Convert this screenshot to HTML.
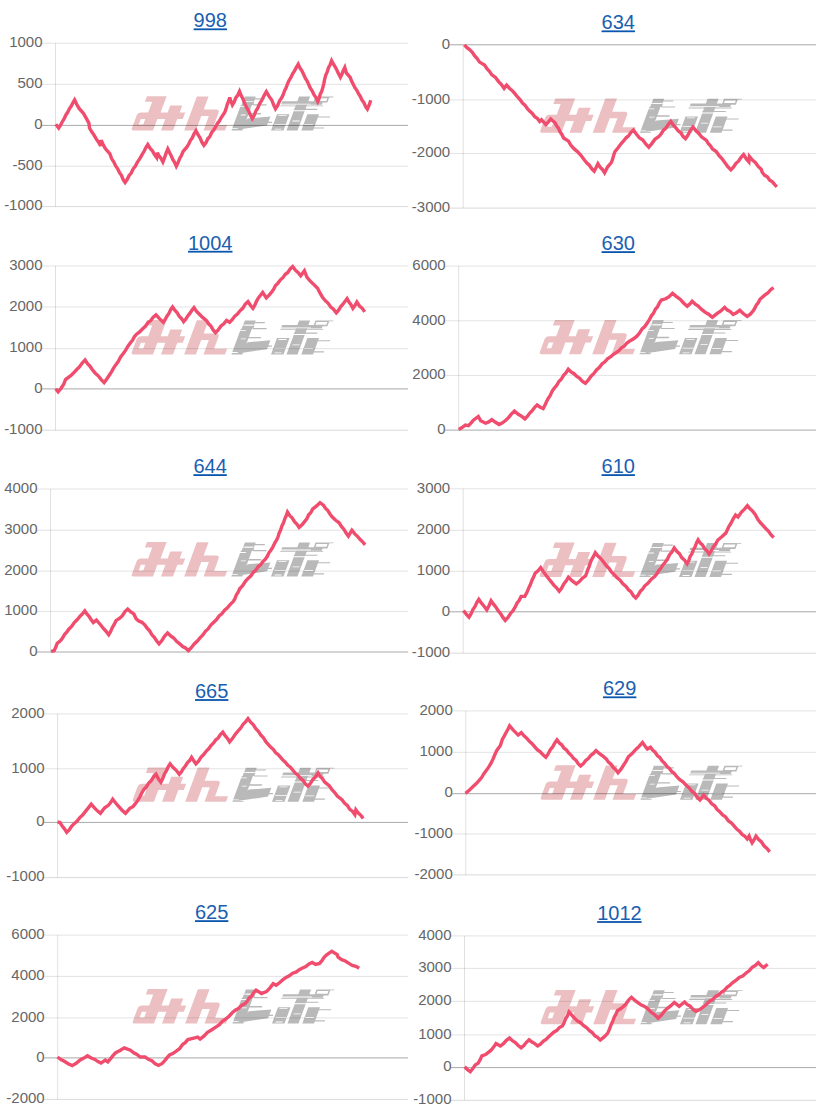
<!DOCTYPE html>
<html><head><meta charset="utf-8">
<style>
html,body{margin:0;padding:0;background:#fff;}
body{width:816px;height:1115px;overflow:hidden;position:relative;font-family:"Liberation Sans",sans-serif;}
svg{position:absolute;left:0;top:0;}
.lbl{font-size:15px;fill:#666;text-anchor:end;}
.ttl{font-size:20px;fill:#1a60b0;text-anchor:middle;}
</style></head><body>
<svg width="816" height="1115" viewBox="0 0 816 1115">

<defs><symbol id="wm" overflow="visible"><g transform="skewX(-20.3)"><path d="M3.2,-34.4H22.9V-28.9H3.2ZM10.5,-28.9H22.9V-18H10.5ZM0,-11.7V-15.1Q0,-18.1 3.5,-18.1H47.5V-11.7ZM0,-11.7H22V0H2.5Q0,0 0,-2.5ZM30,-25H42V0H30ZM53.2,-34.2H64.9V0H53.2ZM64.9,-21H77.5Q81,-21 81,-17.5V-14.5H64.9ZM72.5,-14.5H81V-5.6H72.5ZM72.5,-5.6H94V0H72.5ZM5.5,-11.7V-6H10V-11.7Z" fill="#ecc0c2" fill-rule="nonzero"/><path d="M101.3,-34H112.2V-29.7H101.3ZM112.2,-32.4H122V-31.2H112.2ZM101.1,-29.0H112.7V-25.7H101.1ZM112.7,-26.4H126V-25.2H112.7ZM100.4,-25.7H111.4V0H100.4ZM105.9,-17.5H123.8V-16.1H105.9ZM100.4,0L112.4,-12.2L134.2,-14.1L134.1,-5.2ZM134,-8.8H138V-7.6H134ZM140.4,-29.3H181.2V-25.8H140.4ZM140,-25.2H183V-24.4H140ZM155.5,-34H166.5V0H155.5ZM155,-21.8H178.5V-20.7H155ZM171.9,-34H186V-32.4H171.9ZM171.9,-34H173.5V-28.1H171.9ZM184.4,-34H186V-28.1H184.4ZM171.9,-29.7H186V-28.1H171.9ZM186,-34H190V-33.2H186ZM140,-16.3H152.5V0H140ZM170.3,-16.3H182V0H170.3ZM182,-14.2H194V-13.2H182ZM181,-3.2H192V-2.0H181Z" fill="#b9b9b9"/><path d="M100,-24.4H106V-23.6H100ZM104,-16H109V-15.2H104ZM100,-2.3H106V-1.5H100ZM118,-2.0H134V-1.2H118ZM103,-29.7H111V-29.0H103ZM140,-26.9H170V-26.1H140ZM155,-20.3H168V-19.3H155ZM142,-15.3H150V-14.5H142ZM158,-10.0H165V-9.2H158ZM171,-6.4H180V-5.6H171ZM143,-1.9H150V-1.1H143ZM141,-6.5H153V-5.8H141Z" fill="#fff"/></g></symbol></defs>
<use href="#wm" x="131" y="130.6"/>
<line x1="55.5" y1="43.2" x2="55.5" y2="206.6" stroke="rgba(0,0,0,0.12)" stroke-width="1"/>
<line x1="42.0" y1="43.2" x2="408" y2="43.2" stroke="rgba(0,0,0,0.115)" stroke-width="1"/>
<text class="lbl" x="42.5" y="46.900000000000006">1000</text>
<line x1="42.0" y1="84.3" x2="408" y2="84.3" stroke="rgba(0,0,0,0.115)" stroke-width="1"/>
<text class="lbl" x="42.5" y="88.0">500</text>
<line x1="42.0" y1="125.4" x2="408" y2="125.4" stroke="rgba(0,0,0,0.34)" stroke-width="1"/>
<text class="lbl" x="42.5" y="129.1">0</text>
<line x1="42.0" y1="166.2" x2="408" y2="166.2" stroke="rgba(0,0,0,0.115)" stroke-width="1"/>
<text class="lbl" x="42.5" y="169.89999999999998">-500</text>
<line x1="42.0" y1="206.6" x2="408" y2="206.6" stroke="rgba(0,0,0,0.15)" stroke-width="1"/>
<text class="lbl" x="42.5" y="210.29999999999998">-1000</text>
<text class="ttl" x="210.3" y="27.099999999999998">998</text>
<rect x="193.62" y="28.40" width="33.36" height="1.8" fill="#0a55ad"/>
<polyline points="55.8,124.3 58.7,128.0 60.7,125.0 62.6,121.3 64.3,118.5 66.0,114.7 67.7,112.3 69.5,108.6 71.2,106.3 72.9,102.7 74.6,99.8 76.8,104.5 79.1,108.4 83.4,113.3 85.9,117.6 88.9,123.1 89.5,128.0 91.7,131.8 93.9,134.8 96.2,138.9 98.4,142.0 100.6,145.8 101.2,140.2 103.3,144.9 105.5,148.8 109.8,153.7 111.6,158.6 114.0,162.3 115.8,166.2 117.7,168.8 119.5,172.7 121.4,175.3 123.2,179.7 125.1,182.5 127.1,179.6 129.2,175.4 131.2,173.0 133.2,168.8 135.3,166.2 137.3,162.3 139.8,158.6 142.2,154.3 144.1,151.3 145.9,147.5 147.8,144.5 150.0,148.1 152.2,150.5 154.5,154.6 156.7,157.6 157.4,152.7 159.2,156.2 161.1,158.4 162.9,161.9 164.5,157.9 166.2,152.9 167.8,149.0 169.5,152.6 171.2,155.7 172.9,159.6 174.6,162.3 176.3,166.2 178.0,162.9 179.7,158.5 181.4,155.6 183.1,151.5 186.8,147.2 188.6,144.3 190.5,140.3 192.3,137.8 194.2,133.5 196.0,130.7 198.0,134.7 199.9,137.6 201.9,142.1 203.9,145.4 205.9,142.9 207.8,138.8 209.8,136.5 211.7,132.5 213.7,130.0 215.5,127.2 217.4,123.5 219.2,121.3 221.1,117.8 224.8,112.3 226.0,108.9 227.2,104.6 228.5,101.5 229.7,97.6 231.1,101.7 232.4,104.9 234.2,102.0 235.9,97.7 237.7,95.3 239.5,91.4 241.3,95.9 243.1,99.3 244.9,103.9 246.8,108.0 248.6,110.8 250.5,115.3 252.3,118.6 254.1,115.5 256.0,110.7 257.8,108.0 259.6,103.9 261.8,100.3 264.1,95.6 266.3,91.7 269.1,96.4 271.9,100.2 273.7,105.0 275.5,108.8 277.6,105.7 279.6,100.9 281.7,97.8 283.2,94.7 284.6,90.6 286.1,87.9 287.5,83.9 289.0,80.6 290.8,77.7 292.7,73.7 294.5,70.9 296.4,67.2 298.2,64.1 300.0,68.1 301.9,70.8 303.7,74.5 305.3,78.1 307.0,80.7 308.6,84.3 310.4,88.3 312.3,91.0 314.1,95.0 316.0,97.6 317.8,101.5 319.0,98.7 320.2,94.2 321.5,91.9 322.7,88.0 323.7,84.1 324.7,79.2 325.7,75.3 327.2,72.0 328.6,67.4 330.1,64.9 331.6,60.6 333.8,64.7 336.0,68.4 338.2,73.1 340.4,77.3 341.9,74.3 343.3,70.5 344.8,67.5 346.3,72.8 350.2,77.3 351.6,81.1 353.1,84.1 354.9,87.7 356.7,90.1 358.5,93.7 360.2,96.2 362.0,100.1 363.8,102.4 365.6,106.6 367.4,109.1 369.1,105.2 370.8,100.3" fill="none" stroke="#f04d6e" stroke-width="3.4" stroke-linejoin="miter" stroke-miterlimit="3" stroke-linecap="butt"/>
<use href="#wm" x="539.5" y="132.8"/>
<line x1="463.2" y1="44.8" x2="463.2" y2="208.1" stroke="rgba(0,0,0,0.12)" stroke-width="1"/>
<line x1="449.7" y1="44.8" x2="816" y2="44.8" stroke="rgba(0,0,0,0.34)" stroke-width="1"/>
<text class="lbl" x="450.2" y="48.5">0</text>
<line x1="449.7" y1="99.9" x2="816" y2="99.9" stroke="rgba(0,0,0,0.115)" stroke-width="1"/>
<text class="lbl" x="450.2" y="103.60000000000001">-1000</text>
<line x1="449.7" y1="153.6" x2="816" y2="153.6" stroke="rgba(0,0,0,0.115)" stroke-width="1"/>
<text class="lbl" x="450.2" y="157.29999999999998">-2000</text>
<line x1="449.7" y1="208.1" x2="816" y2="208.1" stroke="rgba(0,0,0,0.15)" stroke-width="1"/>
<text class="lbl" x="450.2" y="211.79999999999998">-3000</text>
<text class="ttl" x="618.25" y="29.099999999999998">634</text>
<rect x="601.57" y="30.40" width="33.36" height="1.8" fill="#0a55ad"/>
<polyline points="464.3,44.9 467.0,47.7 469.6,49.6 472.3,52.3 474.7,56.0 477.2,58.6 479.6,62.1 484.5,65.1 487.0,68.8 489.4,71.3 491.9,74.9 495.5,77.4 498.4,81.3 501.2,84.3 504.1,88.4 506.6,85.1 509.4,88.2 512.3,90.6 515.1,93.9 517.6,97.0 520.0,99.6 522.5,103.1 524.9,105.1 527.4,108.6 529.9,111.4 532.3,113.5 534.8,116.8 537.2,118.3 539.7,121.5 541.5,119.7 545.8,124.6 548.2,122.2 550.7,119.0 555.0,122.7 556.7,126.1 558.4,128.2 560.2,132.1 561.9,134.4 563.6,138.0 568.5,141.1 570.9,145.3 574.2,148.9 577.4,151.6 580.7,155.1 584.4,160.0 586.9,163.0 589.3,165.2 591.8,168.8 594.2,171.1 596.0,167.7 597.9,163.7 600.1,167.2 602.4,169.4 604.6,172.9 607.7,166.8 611.4,162.5 612.6,159.2 613.8,154.8 615.0,151.5 618.1,147.7 621.2,143.5 623.6,141.0 626.1,137.8 628.5,135.9 631.0,132.3 633.4,130.0 636.5,134.3 639.6,138.0 642.6,139.8 645.7,143.9 648.8,147.2 651.8,143.6 654.9,139.2 658.6,136.8 661.0,134.0 663.5,130.1 665.9,128.0 668.4,124.2 670.8,121.4 673.2,124.9 675.7,127.6 678.2,130.8 680.6,132.6 683.0,136.3 685.5,138.6 688.0,135.0 690.4,130.3 692.9,127.0 695.8,130.5 698.6,133.2 701.5,136.8 706.4,140.4 708.4,143.8 710.5,145.9 712.5,149.0 716.2,151.5 719.1,155.6 721.9,158.6 724.8,162.5 727.8,166.7 730.9,169.9 733.4,167.3 736.0,163.3 738.5,161.2 741.1,157.3 743.6,154.5 746.2,158.7 748.9,161.9 749.4,156.5 752.4,160.1 755.3,162.4 758.2,166.4 761.2,169.2 762.2,172.2 764.7,175.3 767.3,176.7 769.8,180.2 772.4,181.9 774.9,184.9 776.9,186.9" fill="none" stroke="#f04d6e" stroke-width="3.4" stroke-linejoin="miter" stroke-miterlimit="3" stroke-linecap="butt"/>
<use href="#wm" x="131" y="354.4"/>
<line x1="55.5" y1="266.0" x2="55.5" y2="430.2" stroke="rgba(0,0,0,0.12)" stroke-width="1"/>
<line x1="42.0" y1="266.0" x2="408" y2="266.0" stroke="rgba(0,0,0,0.115)" stroke-width="1"/>
<text class="lbl" x="42.5" y="269.7">3000</text>
<line x1="42.0" y1="307.0" x2="408" y2="307.0" stroke="rgba(0,0,0,0.115)" stroke-width="1"/>
<text class="lbl" x="42.5" y="310.7">2000</text>
<line x1="42.0" y1="348.7" x2="408" y2="348.7" stroke="rgba(0,0,0,0.115)" stroke-width="1"/>
<text class="lbl" x="42.5" y="352.4">1000</text>
<line x1="42.0" y1="388.9" x2="408" y2="388.9" stroke="rgba(0,0,0,0.34)" stroke-width="1"/>
<text class="lbl" x="42.5" y="392.59999999999997">0</text>
<line x1="42.0" y1="430.2" x2="408" y2="430.2" stroke="rgba(0,0,0,0.15)" stroke-width="1"/>
<text class="lbl" x="42.5" y="433.9">-1000</text>
<text class="ttl" x="210.25" y="249.5">1004</text>
<rect x="188.01" y="250.80" width="44.48" height="1.8" fill="#0a55ad"/>
<polyline points="55.7,388.8 58.1,391.8 60.9,388.5 63.6,384.5 65.5,379.6 70.4,375.9 73.5,373.1 76.5,369.8 79.4,367.0 82.2,363.1 85.1,360.0 87.5,363.7 90.0,366.2 92.4,369.8 95.3,373.2 98.2,375.8 101.2,379.6 104.1,382.6 106.8,379.0 109.6,374.7 111.6,371.6 113.7,367.9 115.7,364.9 118.2,361.6 120.6,357.0 123.1,353.8 125.5,350.4 128.0,346.2 130.4,342.8 132.5,340.4 134.5,336.5 136.6,334.2 139.6,331.9 142.7,328.7 145.4,326.3 148.0,322.6 150.7,320.6 153.3,317.1 156.0,314.9 159.7,318.9 163.4,322.3 165.2,319.5 167.1,316.0 168.9,313.4 170.8,309.5 172.6,307.0 174.8,310.2 177.0,312.5 179.2,316.3 181.4,318.4 183.6,321.7 185.7,319.3 187.8,315.9 189.8,313.4 191.9,310.2 194.0,307.6 196.4,311.1 198.9,313.7 202.6,317.4 206.3,320.4 208.6,323.8 210.9,326.1 213.2,330.0 215.5,332.7 218.2,329.9 221.0,326.0 223.8,323.9 226.5,320.4 229.6,322.3 232.2,319.7 234.8,316.1 237.4,314.1 240.0,310.8 242.7,308.3 245.3,304.2 248.0,301.6 250.4,305.3 252.9,308.3 254.7,305.4 256.6,301.1 258.4,297.9 262.7,292.4 266.3,297.9 269.1,295.2 271.9,291.8 273.7,289.2 275.5,285.6 278.0,283.1 280.4,279.8 282.9,277.7 285.3,274.3 287.8,272.5 290.2,268.9 292.7,266.6 295.4,270.2 298.0,272.4 300.7,275.8 304.4,270.7 306.9,277.1 309.8,280.7 312.7,283.4 317.6,288.3 320.1,293.2 322.5,297.2 325.3,300.7 328.0,303.1 330.8,307.1 333.5,309.1 336.3,312.8 338.6,310.2 340.8,306.5 343.1,304.0 347.1,298.6 349.0,302.1 351.0,304.7 352.9,308.4 354.9,305.7 356.9,302.1 359.5,306.0 362.1,308.1 364.7,311.9" fill="none" stroke="#f04d6e" stroke-width="3.4" stroke-linejoin="miter" stroke-miterlimit="3" stroke-linecap="butt"/>
<use href="#wm" x="539" y="354.3"/>
<line x1="458.7" y1="266.1" x2="458.7" y2="430.1" stroke="rgba(0,0,0,0.12)" stroke-width="1"/>
<line x1="445.2" y1="266.1" x2="816" y2="266.1" stroke="rgba(0,0,0,0.115)" stroke-width="1"/>
<text class="lbl" x="445.7" y="269.8">6000</text>
<line x1="445.2" y1="320.8" x2="816" y2="320.8" stroke="rgba(0,0,0,0.115)" stroke-width="1"/>
<text class="lbl" x="445.7" y="324.5">4000</text>
<line x1="445.2" y1="375.4" x2="816" y2="375.4" stroke="rgba(0,0,0,0.115)" stroke-width="1"/>
<text class="lbl" x="445.7" y="379.09999999999997">2000</text>
<line x1="445.2" y1="430.1" x2="816" y2="430.1" stroke="rgba(0,0,0,0.34)" stroke-width="1"/>
<text class="lbl" x="445.7" y="433.8">0</text>
<text class="ttl" x="618.25" y="249.89999999999998">630</text>
<rect x="601.57" y="251.20" width="33.36" height="1.8" fill="#0a55ad"/>
<polyline points="458.7,429.4 462.0,427.6 465.4,425.1 468.5,425.7 470.9,423.2 473.4,420.2 478.3,416.5 480.7,420.8 485.6,423.2 488.7,421.9 491.8,419.6 495.5,422.3 499.1,424.5 502.1,423.1 505.2,420.8 508.3,417.9 511.3,414.1 514.4,411.0 517.9,414.0 521.4,416.1 524.9,418.9 527.3,416.5 529.8,413.1 532.2,410.7 534.7,407.3 537.1,404.9 540.2,407.2 543.2,408.5 544.8,405.5 546.5,401.7 548.1,398.7 550.1,395.6 552.2,391.1 554.2,388.2 556.6,385.5 558.9,381.5 561.2,379.3 563.6,375.3 565.9,372.9 568.3,369.2 571.1,371.9 574.0,373.7 576.8,376.5 579.7,378.3 582.5,381.5 585.4,383.3 588.2,380.2 591.0,376.2 593.7,373.7 596.5,369.9 599.2,367.5 602.0,363.9 604.8,361.8 607.5,358.8 610.4,357.0 613.2,354.5 616.1,352.7 618.8,350.8 621.5,347.7 624.2,346.1 626.9,343.0 629.6,341.1 633.2,339.0 636.9,336.2 639.5,333.1 642.1,328.9 644.8,326.5 647.4,322.7 649.4,319.7 651.4,315.8 653.4,313.4 655.4,309.2 657.4,307.0 659.4,302.9 661.4,300.0 665.7,298.8 669.1,296.6 672.5,293.3 676.5,296.6 680.4,299.4 683.8,303.2 687.2,306.2 689.7,304.2 692.1,301.2 695.2,304.1 698.2,306.1 701.3,309.2 705.0,312.1 708.6,314.2 712.3,317.4 717.2,313.4 720.9,310.9 724.6,307.3 727.4,310.1 730.3,311.6 733.1,314.5 736.5,312.7 739.8,310.2 743.5,313.8 747.2,316.4 750.0,314.4 752.7,311.5 754.5,308.8 756.4,305.0 758.2,302.8 760.0,299.2 765.0,294.9 767.8,293.0 770.7,289.7 773.5,287.6" fill="none" stroke="#f04d6e" stroke-width="3.4" stroke-linejoin="miter" stroke-miterlimit="3" stroke-linecap="butt"/>
<use href="#wm" x="131" y="576.5"/>
<line x1="50.5" y1="489.0" x2="50.5" y2="652.0" stroke="rgba(0,0,0,0.12)" stroke-width="1"/>
<line x1="37.0" y1="489.0" x2="408" y2="489.0" stroke="rgba(0,0,0,0.115)" stroke-width="1"/>
<text class="lbl" x="37.5" y="492.7">4000</text>
<line x1="37.0" y1="530.2" x2="408" y2="530.2" stroke="rgba(0,0,0,0.115)" stroke-width="1"/>
<text class="lbl" x="37.5" y="533.9000000000001">3000</text>
<line x1="37.0" y1="571.1" x2="408" y2="571.1" stroke="rgba(0,0,0,0.115)" stroke-width="1"/>
<text class="lbl" x="37.5" y="574.8000000000001">2000</text>
<line x1="37.0" y1="611.4" x2="408" y2="611.4" stroke="rgba(0,0,0,0.115)" stroke-width="1"/>
<text class="lbl" x="37.5" y="615.1">1000</text>
<line x1="37.0" y1="652.0" x2="408" y2="652.0" stroke="rgba(0,0,0,0.34)" stroke-width="1"/>
<text class="lbl" x="37.5" y="655.7">0</text>
<text class="ttl" x="210.1" y="472.9">644</text>
<rect x="193.42" y="474.20" width="33.36" height="1.8" fill="#0a55ad"/>
<polyline points="51.1,651.3 54.1,650.7 55.7,647.3 57.2,643.3 60.3,640.9 62.4,638.2 64.5,634.6 66.7,632.3 68.8,629.2 71.6,626.4 74.3,622.5 77.1,619.8 79.9,616.4 82.3,614.0 84.8,610.9 86.9,614.0 89.0,616.3 91.2,619.8 93.3,622.5 96.4,620.0 100.7,625.0 103.4,628.5 106.0,631.2 108.7,634.8 110.5,631.8 112.3,627.5 114.2,624.5 116.0,620.7 119.7,618.2 122.4,615.6 125.0,611.5 127.7,609.0 130.8,611.9 133.8,613.9 136.2,618.8 139.1,621.2 142.0,622.3 144.9,625.0 147.2,628.3 149.6,630.8 151.9,634.8 154.3,637.4 156.7,641.0 159.0,643.9 161.9,640.5 164.7,636.0 167.6,632.9 170.7,635.9 173.7,638.0 176.8,641.6 179.8,643.9 182.7,646.5 185.5,648.0 188.4,650.7 191.3,647.7 194.2,644.0 197.1,641.3 200.0,637.8 202.7,635.2 205.4,631.3 208.1,628.9 210.8,625.1 213.5,622.5 216.3,619.8 219.1,616.0 221.8,613.8 224.6,610.2 227.4,607.8 230.3,604.3 233.1,601.7 234.8,598.9 236.4,594.8 238.0,592.5 239.7,588.7 242.6,585.7 245.4,581.4 248.3,578.2 250.7,576.1 253.2,572.5 255.6,570.4 258.1,566.8 260.5,564.9 263.0,561.5 265.4,559.2 267.3,556.3 269.1,552.6 271.0,550.0 272.8,547.2 274.7,543.0 276.5,540.2 277.9,537.2 279.2,532.9 280.6,530.1 282.0,525.7 283.4,523.1 284.8,518.8 286.1,516.1 287.5,512.1 289.8,515.7 292.1,517.8 294.5,521.7 296.8,524.1 299.1,527.4 302.0,524.9 304.8,521.4 306.8,518.8 308.7,514.7 310.7,512.7 312.6,509.1 316.3,506.2 320.0,502.7 323.4,505.2 325.6,508.5 327.9,510.6 330.1,514.2 332.3,517.0 335.7,520.3 339.1,522.8 341.4,526.4 343.8,529.2 346.1,533.0 348.4,536.1 351.9,530.2 354.8,533.9 357.7,536.6 360.2,539.6 362.6,541.8 365.1,544.9" fill="none" stroke="#f04d6e" stroke-width="3.4" stroke-linejoin="miter" stroke-miterlimit="3" stroke-linecap="butt"/>
<use href="#wm" x="539" y="577"/>
<line x1="463.2" y1="488.8" x2="463.2" y2="653.2" stroke="rgba(0,0,0,0.12)" stroke-width="1"/>
<line x1="449.7" y1="488.8" x2="816" y2="488.8" stroke="rgba(0,0,0,0.115)" stroke-width="1"/>
<text class="lbl" x="450.2" y="492.5">3000</text>
<line x1="449.7" y1="530.3" x2="816" y2="530.3" stroke="rgba(0,0,0,0.115)" stroke-width="1"/>
<text class="lbl" x="450.2" y="534.0">2000</text>
<line x1="449.7" y1="571.3" x2="816" y2="571.3" stroke="rgba(0,0,0,0.115)" stroke-width="1"/>
<text class="lbl" x="450.2" y="575.0">1000</text>
<line x1="449.7" y1="611.8" x2="816" y2="611.8" stroke="rgba(0,0,0,0.34)" stroke-width="1"/>
<text class="lbl" x="450.2" y="615.5">0</text>
<line x1="449.7" y1="653.2" x2="816" y2="653.2" stroke="rgba(0,0,0,0.15)" stroke-width="1"/>
<text class="lbl" x="450.2" y="656.9000000000001">-1000</text>
<text class="ttl" x="618.25" y="472.9">610</text>
<rect x="601.57" y="474.20" width="33.36" height="1.8" fill="#0a55ad"/>
<polyline points="463.5,610.5 466.2,614.2 469.0,617.2 471.0,613.9 472.9,609.6 474.9,606.7 476.8,602.6 478.8,599.4 481.5,603.2 484.1,606.2 486.8,609.9 489.0,605.7 491.1,600.7 493.5,604.2 495.8,606.9 498.1,610.7 500.5,613.5 502.9,617.4 505.2,620.3 507.8,617.6 510.5,613.5 513.1,610.5 515.1,607.2 517.1,603.0 519.1,600.5 521.1,596.4 524.8,596.4 527.0,592.2 529.1,587.2 530.6,584.0 532.2,579.6 533.7,576.8 535.2,573.1 538.0,570.9 540.7,567.6 543.5,571.9 546.2,575.5 548.7,578.8 551.1,581.7 553.8,585.1 556.5,587.8 559.2,591.3 561.5,588.3 563.8,584.0 566.1,581.1 568.4,577.2 572.3,581.0 576.3,583.9 579.4,581.6 582.4,578.2 585.5,576.0 586.7,572.9 588.0,569.2 589.2,566.3 590.5,562.3 591.7,559.4 593.5,556.4 595.3,552.7 598.2,556.3 601.0,558.8 603.9,562.5 606.4,565.8 608.8,568.0 611.2,571.7 613.7,574.1 616.8,577.6 619.9,580.0 622.9,583.7 626.0,586.4 628.5,589.7 630.9,591.7 633.3,595.6 635.8,598.0 638.0,595.3 640.3,591.3 642.5,589.1 644.8,585.8 648.1,583.1 651.3,579.2 654.6,576.6 656.7,574.0 658.8,570.6 660.8,568.3 662.9,564.9 665.0,562.5 667.3,559.3 669.6,554.7 671.9,552.0 674.2,547.8 676.8,551.3 679.4,553.7 681.9,557.8 684.5,560.1 687.1,563.7 688.7,560.7 690.2,556.3 691.8,554.0 693.4,549.7 695.0,547.1 696.5,543.0 698.1,539.8 700.3,543.1 702.5,545.0 704.7,548.9 706.9,550.6 709.1,553.9 711.3,550.7 713.5,546.6 715.7,543.9 717.9,540.0 721.8,536.7 725.8,533.1 728.7,526.8 731.0,523.2 733.3,518.7 735.6,515.0 738.0,517.0 741.5,512.1 744.5,509.1 747.4,505.7 750.0,508.8 752.6,511.1 755.2,514.5 758.1,519.9 760.5,522.8 763.0,525.3 765.7,528.6 768.4,531.1 771.1,535.0 773.8,537.5" fill="none" stroke="#f04d6e" stroke-width="3.4" stroke-linejoin="miter" stroke-miterlimit="3" stroke-linecap="butt"/>
<use href="#wm" x="132" y="801.8"/>
<line x1="57.6" y1="713.9" x2="57.6" y2="877.6" stroke="rgba(0,0,0,0.12)" stroke-width="1"/>
<line x1="44.1" y1="713.9" x2="408" y2="713.9" stroke="rgba(0,0,0,0.115)" stroke-width="1"/>
<text class="lbl" x="44.6" y="717.6">2000</text>
<line x1="44.1" y1="768.8" x2="408" y2="768.8" stroke="rgba(0,0,0,0.115)" stroke-width="1"/>
<text class="lbl" x="44.6" y="772.5">1000</text>
<line x1="44.1" y1="822.4" x2="408" y2="822.4" stroke="rgba(0,0,0,0.34)" stroke-width="1"/>
<text class="lbl" x="44.6" y="826.1">0</text>
<line x1="44.1" y1="877.6" x2="408" y2="877.6" stroke="rgba(0,0,0,0.15)" stroke-width="1"/>
<text class="lbl" x="44.6" y="881.3000000000001">-1000</text>
<text class="ttl" x="211.7" y="697.8000000000001">665</text>
<rect x="195.02" y="699.10" width="33.36" height="1.8" fill="#0a55ad"/>
<polyline points="57.5,821.9 60.0,822.5 62.2,826.1 64.5,828.8 66.7,832.3 69.2,829.9 71.6,826.4 74.1,823.7 76.9,821.2 79.8,817.6 82.6,815.1 86.9,809.6 91.2,804.1 94.9,808.4 97.7,811.1 100.4,813.3 104.7,807.8 108.4,805.3 110.6,802.6 112.7,799.2 115.5,802.8 118.2,806.0 121.8,810.0 125.5,813.3 129.8,808.4 132.9,806.6 135.4,803.7 137.8,800.4 139.8,797.0 141.9,792.7 143.9,789.4 146.3,786.9 148.7,783.1 151.2,780.6 153.6,776.9 156.0,774.3 158.4,778.9 160.9,782.3 162.8,778.4 164.6,773.7 166.4,770.8 168.3,766.6 170.1,763.9 173.2,767.6 176.2,770.3 179.3,774.3 181.4,771.8 183.4,768.4 185.4,766.0 187.5,762.6 189.6,760.6 191.6,757.2 193.8,760.8 195.9,763.9 198.5,761.1 201.1,757.1 203.7,754.6 206.3,751.1 208.7,748.8 211.0,745.5 213.4,743.2 215.7,740.0 218.1,738.0 220.4,734.5 222.8,732.1 225.1,735.7 227.3,738.2 229.6,741.9 232.4,738.6 235.3,734.2 238.1,730.8 240.6,728.3 243.1,724.2 245.5,721.9 248.0,718.6 250.6,722.2 253.2,724.6 255.8,728.7 258.4,731.4 260.8,735.1 263.3,737.5 265.8,741.7 268.2,744.3 270.6,747.1 273.1,749.1 275.5,752.5 278.0,754.4 280.4,757.2 282.9,760.1 285.3,762.1 287.8,765.3 290.2,766.9 292.7,770.0 295.2,773.1 297.8,774.9 300.4,778.4 302.9,780.3 305.4,783.9 308.0,786.2 310.5,783.3 313.1,779.2 315.6,776.8 318.1,773.0 320.2,776.5 322.4,778.6 324.5,781.9 329.4,785.8 332.0,789.7 334.7,792.5 337.3,796.1 342.2,800.0 344.7,803.4 347.3,805.4 349.8,809.4 352.4,811.2 354.9,814.7 355.9,809.8 358.3,813.0 360.8,815.3 363.2,818.6" fill="none" stroke="#f04d6e" stroke-width="3.4" stroke-linejoin="miter" stroke-miterlimit="3" stroke-linecap="butt"/>
<use href="#wm" x="540" y="799.7"/>
<line x1="465.8" y1="710.9" x2="465.8" y2="874.9" stroke="rgba(0,0,0,0.12)" stroke-width="1"/>
<line x1="452.3" y1="710.9" x2="816" y2="710.9" stroke="rgba(0,0,0,0.115)" stroke-width="1"/>
<text class="lbl" x="452.8" y="714.6">2000</text>
<line x1="452.3" y1="752.3" x2="816" y2="752.3" stroke="rgba(0,0,0,0.115)" stroke-width="1"/>
<text class="lbl" x="452.8" y="756.0">1000</text>
<line x1="452.3" y1="793.7" x2="816" y2="793.7" stroke="rgba(0,0,0,0.34)" stroke-width="1"/>
<text class="lbl" x="452.8" y="797.4000000000001">0</text>
<line x1="452.3" y1="834.0" x2="816" y2="834.0" stroke="rgba(0,0,0,0.115)" stroke-width="1"/>
<text class="lbl" x="452.8" y="837.7">-1000</text>
<line x1="452.3" y1="874.9" x2="816" y2="874.9" stroke="rgba(0,0,0,0.15)" stroke-width="1"/>
<text class="lbl" x="452.8" y="878.6">-2000</text>
<text class="ttl" x="619.7" y="695.1">629</text>
<rect x="603.02" y="696.40" width="33.36" height="1.8" fill="#0a55ad"/>
<polyline points="465.5,793.3 468.9,790.6 472.3,787.2 476.0,783.8 479.6,779.9 481.6,777.5 483.7,774.0 485.7,771.3 488.5,767.4 491.3,762.7 493.1,758.9 495.0,754.3 496.8,750.4 500.4,745.5 502.3,739.4 504.1,736.4 506.0,732.7 507.8,729.5 509.6,725.9 513.3,730.2 518.2,735.1 521.3,732.7 524.0,735.9 526.7,738.1 529.4,741.4 532.1,743.6 534.8,746.8 537.5,749.9 540.3,751.8 543.0,754.9 545.8,757.2 548.0,754.2 550.3,749.7 552.5,747.2 554.8,742.9 557.0,739.8 559.4,743.0 561.7,744.8 564.1,748.2 566.4,750.0 568.8,753.1 571.2,755.3 573.5,758.4 575.9,760.2 578.2,763.6 580.6,766.0 583.2,763.9 585.7,760.4 588.3,758.6 590.9,755.3 593.4,753.4 596.0,750.6 599.5,753.7 602.9,756.1 606.4,759.2 608.7,762.4 611.0,764.2 613.4,767.6 615.7,769.6 618.0,772.7 620.8,769.4 623.5,765.3 626.0,761.4 628.4,756.8 632.1,753.6 635.8,749.4 639.1,746.4 642.5,742.5 645.0,746.0 647.4,749.0 650.4,747.3 652.8,750.4 655.1,752.2 657.5,755.8 659.8,757.4 662.1,760.9 664.5,763.2 667.0,766.5 669.4,768.4 671.9,771.7 674.3,773.5 676.8,776.7 679.8,779.7 682.9,781.8 686.0,785.1 689.0,787.7 691.8,791.2 694.5,793.3 697.2,797.3 700.0,800.0 703.7,795.0 706.4,798.3 709.0,800.2 711.7,803.8 714.4,805.6 717.0,809.3 719.7,811.6 722.6,814.9 725.6,816.9 728.5,821.0 731.5,823.0 734.4,826.3 737.0,829.3 739.5,831.2 742.1,834.4 744.6,836.0 747.2,839.0 749.1,836.1 750.6,840.1 752.1,842.9 754.0,840.0 756.0,836.1 758.7,839.5 761.5,842.0 764.2,846.0 767.0,848.5 769.7,851.8" fill="none" stroke="#f04d6e" stroke-width="3.4" stroke-linejoin="miter" stroke-miterlimit="3" stroke-linecap="butt"/>
<use href="#wm" x="132" y="1023.5"/>
<line x1="57.7" y1="935.1" x2="57.7" y2="1099.4" stroke="rgba(0,0,0,0.12)" stroke-width="1"/>
<line x1="44.2" y1="935.1" x2="408" y2="935.1" stroke="rgba(0,0,0,0.115)" stroke-width="1"/>
<text class="lbl" x="44.7" y="938.8000000000001">6000</text>
<line x1="44.2" y1="976.4" x2="408" y2="976.4" stroke="rgba(0,0,0,0.115)" stroke-width="1"/>
<text class="lbl" x="44.7" y="980.1">4000</text>
<line x1="44.2" y1="1017.9" x2="408" y2="1017.9" stroke="rgba(0,0,0,0.115)" stroke-width="1"/>
<text class="lbl" x="44.7" y="1021.6">2000</text>
<line x1="44.2" y1="1057.9" x2="408" y2="1057.9" stroke="rgba(0,0,0,0.34)" stroke-width="1"/>
<text class="lbl" x="44.7" y="1061.6000000000001">0</text>
<line x1="44.2" y1="1099.4" x2="408" y2="1099.4" stroke="rgba(0,0,0,0.15)" stroke-width="1"/>
<text class="lbl" x="44.7" y="1103.1000000000001">-2000</text>
<text class="ttl" x="211.7" y="918.9000000000001">625</text>
<rect x="195.02" y="920.20" width="33.36" height="1.8" fill="#0a55ad"/>
<polyline points="57.5,1057.0 60.9,1059.5 64.3,1061.3 68.2,1063.7 72.2,1065.6 76.2,1063.3 80.2,1060.0 83.8,1058.1 87.5,1055.8 91.2,1058.0 94.9,1059.4 98.0,1061.6 101.0,1063.1 105.3,1060.0 107.8,1061.9 110.4,1059.0 113.1,1055.4 115.7,1052.7 120.0,1050.4 124.3,1047.8 130.4,1050.2 133.7,1052.8 136.9,1054.5 140.2,1057.0 145.1,1057.0 148.4,1059.3 151.8,1060.8 155.2,1063.8 158.5,1065.4 162.2,1063.5 164.6,1060.9 167.1,1057.6 169.5,1055.0 173.2,1053.3 176.9,1050.7 179.7,1048.5 182.4,1044.7 185.2,1042.7 187.9,1039.6 192.8,1038.4 197.7,1037.2 200.1,1039.0 203.8,1036.2 207.5,1032.3 211.8,1029.7 216.1,1026.8 219.4,1024.7 222.6,1021.2 225.9,1018.8 229.0,1016.2 232.2,1012.8 235.3,1010.2 238.5,1008.4 241.6,1005.4 244.8,1003.8 247.1,1001.3 249.3,997.9 251.6,996.0 253.8,992.5 256.1,990.1 261.5,993.5 266.4,991.6 269.8,988.1 273.2,983.7 276.2,985.2 279.5,982.8 282.7,979.8 286.0,977.4 289.3,975.8 292.6,973.2 296.0,972.1 299.3,969.6 302.6,968.0 305.8,966.6 309.0,964.0 312.2,962.5 315.6,964.4 319.5,963.4 321.8,960.9 324.1,957.4 326.4,955.1 331.8,951.2 337.2,954.6 338.1,957.1 341.7,959.7 345.3,961.0 348.9,963.4 352.3,965.5 355.8,966.3 359.2,968.3" fill="none" stroke="#f04d6e" stroke-width="3.4" stroke-linejoin="miter" stroke-miterlimit="3" stroke-linecap="butt"/>
<use href="#wm" x="540" y="1024.3"/>
<line x1="464.5" y1="935.9" x2="464.5" y2="1100.3" stroke="rgba(0,0,0,0.12)" stroke-width="1"/>
<line x1="451.0" y1="935.9" x2="816" y2="935.9" stroke="rgba(0,0,0,0.115)" stroke-width="1"/>
<text class="lbl" x="451.5" y="939.6">4000</text>
<line x1="451.0" y1="968.4" x2="816" y2="968.4" stroke="rgba(0,0,0,0.115)" stroke-width="1"/>
<text class="lbl" x="451.5" y="972.1">3000</text>
<line x1="451.0" y1="1001.3" x2="816" y2="1001.3" stroke="rgba(0,0,0,0.115)" stroke-width="1"/>
<text class="lbl" x="451.5" y="1005.0">2000</text>
<line x1="451.0" y1="1034.9" x2="816" y2="1034.9" stroke="rgba(0,0,0,0.115)" stroke-width="1"/>
<text class="lbl" x="451.5" y="1038.6000000000001">1000</text>
<line x1="451.0" y1="1067.6" x2="816" y2="1067.6" stroke="rgba(0,0,0,0.34)" stroke-width="1"/>
<text class="lbl" x="451.5" y="1071.3">0</text>
<line x1="451.0" y1="1100.3" x2="816" y2="1100.3" stroke="rgba(0,0,0,0.15)" stroke-width="1"/>
<text class="lbl" x="451.5" y="1104.0">-1000</text>
<text class="ttl" x="619.4" y="919.8000000000001">1012</text>
<rect x="597.16" y="921.10" width="44.48" height="1.8" fill="#0a55ad"/>
<polyline points="464.7,1066.8 467.5,1069.6 470.3,1071.7 472.8,1068.6 475.2,1065.0 478.2,1063.1 480.0,1059.9 481.9,1055.8 485.6,1054.5 491.1,1050.2 493.6,1047.1 496.0,1043.5 500.3,1046.0 503.4,1043.7 506.4,1040.3 509.5,1038.0 512.4,1040.7 515.3,1042.5 518.2,1045.5 521.1,1047.8 523.8,1045.5 526.4,1042.3 529.1,1039.8 532.0,1042.1 534.8,1043.6 537.7,1046.0 540.5,1044.2 543.2,1041.2 546.0,1039.4 548.7,1036.8 553.7,1032.2 556.6,1030.6 559.4,1027.6 562.3,1026.1 564.0,1023.0 565.6,1018.7 567.3,1016.1 569.0,1012.0 571.8,1015.2 574.5,1018.1 577.6,1021.1 580.6,1022.7 583.7,1025.7 586.8,1027.9 589.5,1030.6 592.2,1032.5 594.8,1035.7 597.5,1037.4 600.2,1040.1 603.9,1037.2 607.6,1033.4 609.5,1029.2 611.3,1024.2 612.8,1021.2 614.3,1017.0 615.9,1014.3 617.4,1010.7 620.5,1008.8 623.5,1006.4 626.2,1003.6 628.8,999.9 631.5,997.3 634.9,1000.4 638.2,1002.8 641.4,1005.1 644.6,1006.4 647.8,1008.8 651.2,1012.3 654.7,1014.7 658.1,1018.1 661.2,1015.3 664.4,1011.1 667.5,1008.3 670.9,1005.7 674.3,1002.5 679.2,1006.4 684.6,1002.0 687.4,1004.7 690.2,1006.2 693.1,1009.5 695.9,1011.3 699.3,1009.8 702.7,1007.4 706.2,1004.5 709.8,1001.0 712.8,999.4 715.7,996.4 718.6,994.8 721.6,992.2 724.3,990.3 727.0,987.3 729.7,985.5 732.4,982.8 735.8,980.5 739.2,977.4 742.7,976.0 746.1,973.0 749.1,970.8 752.2,967.3 755.2,965.6 758.3,962.7 761.0,965.6 763.7,967.6 767.6,964.2" fill="none" stroke="#f04d6e" stroke-width="3.4" stroke-linejoin="miter" stroke-miterlimit="3" stroke-linecap="butt"/>
</svg></body></html>
